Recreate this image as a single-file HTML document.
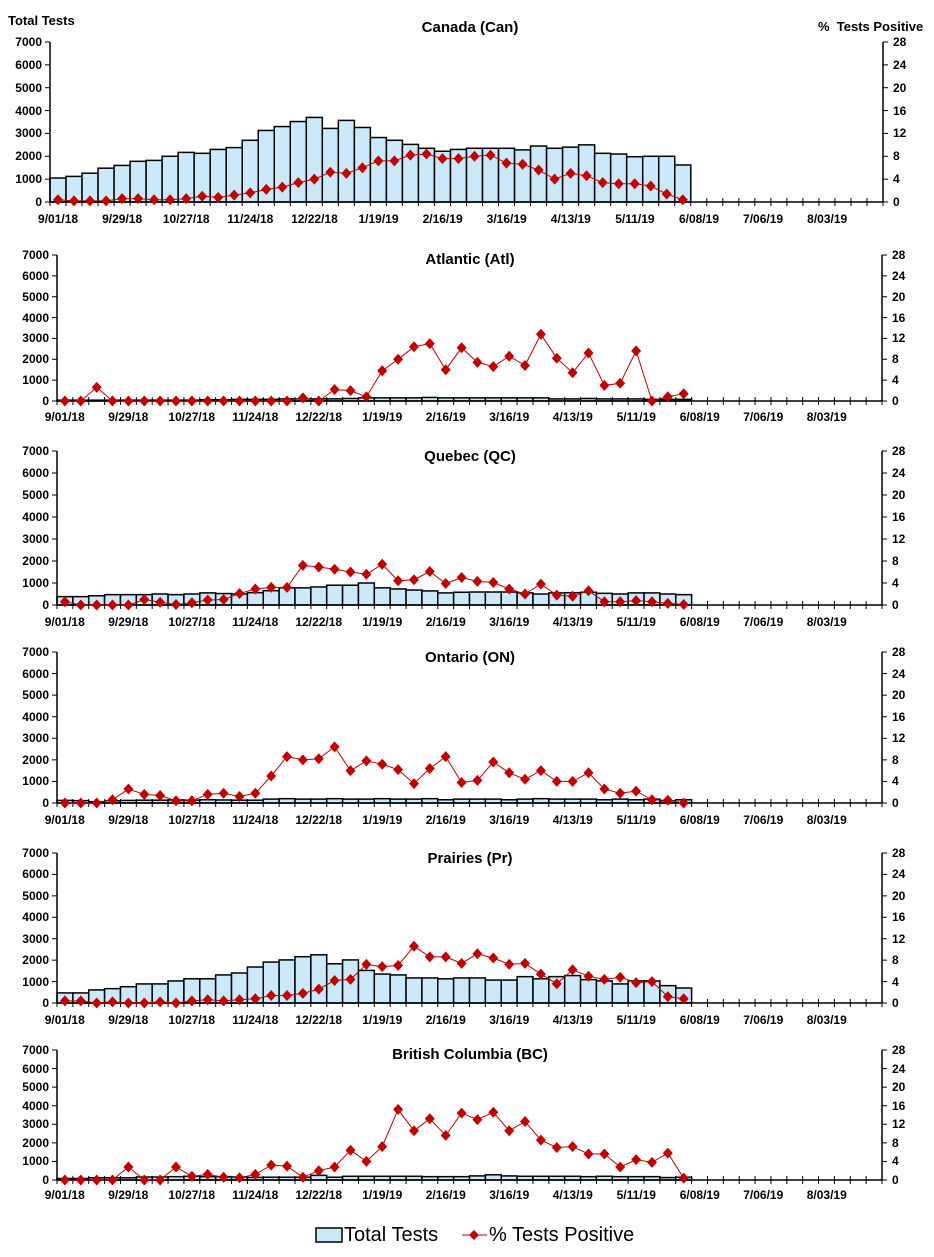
<!DOCTYPE html>
<html><head><meta charset="utf-8">
<style>
body{margin:0;background:#fff;width:934px;height:1257px;position:relative;overflow:hidden;font-family:"Liberation Sans",Arial,sans-serif;}
svg{position:absolute;left:0;top:0}
.yl,.yr{position:absolute;display:flex;flex-direction:column;justify-content:space-between;font-weight:bold;font-size:12px;line-height:14px}
.yl{text-align:right;width:40px}
.yr{text-align:left;width:30px}
.dt{position:absolute;display:flex;font-weight:bold;font-size:12px;line-height:14px;white-space:nowrap}
.dt span{text-align:center;flex:none}
.tt{position:absolute;font-weight:bold;font-size:15px;text-align:center;width:300px;line-height:18px}
.lab{position:absolute;font-weight:bold;font-size:13px;white-space:nowrap}
.leg{position:absolute;font-size:20px;white-space:nowrap;line-height:20px}
</style></head><body>
<svg id="s" width="934" height="1257" xmlns="http://www.w3.org/2000/svg"></svg>

<div class="lab" style="left:8px;top:13px">Total Tests</div>
<div class="lab" style="left:818px;top:19px">%&nbsp; Tests Positive</div>

<div class="tt" style="left:320px;top:19px">Canada (Can)</div>
<div class="tt" style="left:320px;top:251px">Atlantic (Atl)</div>
<div class="tt" style="left:320px;top:448px">Quebec (QC)</div>
<div class="tt" style="left:320px;top:649px">Ontario (ON)</div>
<div class="tt" style="left:320px;top:850px">Prairies (Pr)</div>
<div class="tt" style="left:320px;top:1046px">British Columbia (BC)</div>

<!-- Panel 1 -->
<div class="yl" style="left:2px;top:35px;height:174px"><div>7000</div><div>6000</div><div>5000</div><div>4000</div><div>3000</div><div>2000</div><div>1000</div><div>0</div></div>
<div class="yr" style="left:893px;top:35px;height:174px"><div>28</div><div>24</div><div>20</div><div>16</div><div>12</div><div>8</div><div>4</div><div>0</div></div>
<div class="dt" style="left:26px;top:212px"><span style="width:64.1px">9/01/18</span><span style="width:64.1px">9/29/18</span><span style="width:64.1px">10/27/18</span><span style="width:64.1px">11/24/18</span><span style="width:64.1px">12/22/18</span><span style="width:64.1px">1/19/19</span><span style="width:64.1px">2/16/19</span><span style="width:64.1px">3/16/19</span><span style="width:64.1px">4/13/19</span><span style="width:64.1px">5/11/19</span><span style="width:64.1px">6/08/19</span><span style="width:64.1px">7/06/19</span><span style="width:64.1px">8/03/19</span></div>

<!-- Panel 2 -->
<div class="yl" style="left:9px;top:248px;height:160px"><div>7000</div><div>6000</div><div>5000</div><div>4000</div><div>3000</div><div>2000</div><div>1000</div><div>0</div></div>
<div class="yr" style="left:892px;top:248px;height:160px"><div>28</div><div>24</div><div>20</div><div>16</div><div>12</div><div>8</div><div>4</div><div>0</div></div>
<div class="dt" style="left:33px;top:410px"><span style="width:63.5px">9/01/18</span><span style="width:63.5px">9/29/18</span><span style="width:63.5px">10/27/18</span><span style="width:63.5px">11/24/18</span><span style="width:63.5px">12/22/18</span><span style="width:63.5px">1/19/19</span><span style="width:63.5px">2/16/19</span><span style="width:63.5px">3/16/19</span><span style="width:63.5px">4/13/19</span><span style="width:63.5px">5/11/19</span><span style="width:63.5px">6/08/19</span><span style="width:63.5px">7/06/19</span><span style="width:63.5px">8/03/19</span></div>

<!-- Panel 3 -->
<div class="yl" style="left:9px;top:444px;height:168px"><div>7000</div><div>6000</div><div>5000</div><div>4000</div><div>3000</div><div>2000</div><div>1000</div><div>0</div></div>
<div class="yr" style="left:892px;top:444px;height:168px"><div>28</div><div>24</div><div>20</div><div>16</div><div>12</div><div>8</div><div>4</div><div>0</div></div>
<div class="dt" style="left:33px;top:615px"><span style="width:63.5px">9/01/18</span><span style="width:63.5px">9/29/18</span><span style="width:63.5px">10/27/18</span><span style="width:63.5px">11/24/18</span><span style="width:63.5px">12/22/18</span><span style="width:63.5px">1/19/19</span><span style="width:63.5px">2/16/19</span><span style="width:63.5px">3/16/19</span><span style="width:63.5px">4/13/19</span><span style="width:63.5px">5/11/19</span><span style="width:63.5px">6/08/19</span><span style="width:63.5px">7/06/19</span><span style="width:63.5px">8/03/19</span></div>

<!-- Panel 4 -->
<div class="yl" style="left:9px;top:645px;height:165px"><div>7000</div><div>6000</div><div>5000</div><div>4000</div><div>3000</div><div>2000</div><div>1000</div><div>0</div></div>
<div class="yr" style="left:892px;top:645px;height:165px"><div>28</div><div>24</div><div>20</div><div>16</div><div>12</div><div>8</div><div>4</div><div>0</div></div>
<div class="dt" style="left:33px;top:813px"><span style="width:63.5px">9/01/18</span><span style="width:63.5px">9/29/18</span><span style="width:63.5px">10/27/18</span><span style="width:63.5px">11/24/18</span><span style="width:63.5px">12/22/18</span><span style="width:63.5px">1/19/19</span><span style="width:63.5px">2/16/19</span><span style="width:63.5px">3/16/19</span><span style="width:63.5px">4/13/19</span><span style="width:63.5px">5/11/19</span><span style="width:63.5px">6/08/19</span><span style="width:63.5px">7/06/19</span><span style="width:63.5px">8/03/19</span></div>

<!-- Panel 5 -->
<div class="yl" style="left:9px;top:846px;height:164px"><div>7000</div><div>6000</div><div>5000</div><div>4000</div><div>3000</div><div>2000</div><div>1000</div><div>0</div></div>
<div class="yr" style="left:892px;top:846px;height:164px"><div>28</div><div>24</div><div>20</div><div>16</div><div>12</div><div>8</div><div>4</div><div>0</div></div>
<div class="dt" style="left:33px;top:1013px"><span style="width:63.5px">9/01/18</span><span style="width:63.5px">9/29/18</span><span style="width:63.5px">10/27/18</span><span style="width:63.5px">11/24/18</span><span style="width:63.5px">12/22/18</span><span style="width:63.5px">1/19/19</span><span style="width:63.5px">2/16/19</span><span style="width:63.5px">3/16/19</span><span style="width:63.5px">4/13/19</span><span style="width:63.5px">5/11/19</span><span style="width:63.5px">6/08/19</span><span style="width:63.5px">7/06/19</span><span style="width:63.5px">8/03/19</span></div>

<!-- Panel 6 -->
<div class="yl" style="left:9px;top:1043px;height:144px"><div>7000</div><div>6000</div><div>5000</div><div>4000</div><div>3000</div><div>2000</div><div>1000</div><div>0</div></div>
<div class="yr" style="left:892px;top:1043px;height:144px"><div>28</div><div>24</div><div>20</div><div>16</div><div>12</div><div>8</div><div>4</div><div>0</div></div>
<div class="dt" style="left:33px;top:1188px"><span style="width:63.5px">9/01/18</span><span style="width:63.5px">9/29/18</span><span style="width:63.5px">10/27/18</span><span style="width:63.5px">11/24/18</span><span style="width:63.5px">12/22/18</span><span style="width:63.5px">1/19/19</span><span style="width:63.5px">2/16/19</span><span style="width:63.5px">3/16/19</span><span style="width:63.5px">4/13/19</span><span style="width:63.5px">5/11/19</span><span style="width:63.5px">6/08/19</span><span style="width:63.5px">7/06/19</span><span style="width:63.5px">8/03/19</span></div>

<!-- Legend -->
<div class="leg" style="left:344px;top:1225px">Total Tests</div>
<div class="leg" style="left:489px;top:1225px">% Tests Positive</div>

<script>
var s=document.getElementById('s'),h='';
var P=[
{L:50,R:883,T:42,B:202,
b:[1050,1120,1260,1480,1600,1780,1820,2000,2170,2130,2300,2380,2700,3130,3300,3520,3700,3220,3570,3260,2820,2700,2520,2350,2220,2300,2350,2350,2350,2280,2450,2350,2400,2500,2130,2100,1980,2000,2000,1620],
p:[0.4,0.2,0.2,0.2,0.6,0.6,0.4,0.4,0.6,1.0,0.8,1.2,1.6,2.2,2.6,3.4,4.0,5.2,5.0,6.0,7.2,7.2,8.2,8.4,7.6,7.6,8.0,8.2,6.8,6.6,5.6,4.0,5.0,4.6,3.4,3.2,3.2,2.8,1.4,0.4]},
{L:57,R:882,T:255,B:401,
b:[40,40,40,40,40,40,40,40,40,60,60,80,80,80,100,100,100,100,120,150,150,150,150,170,150,150,150,150,150,150,150,100,100,120,100,100,100,80,80,80],
p:[0,0,2.6,0,0,0,0,0,0,0,0,0,0,0,0,0.6,0,2.2,2.0,0.8,5.8,8.0,10.4,11.0,6.0,10.2,7.4,6.6,8.6,6.8,12.8,8.2,5.4,9.2,3.0,3.4,9.6,0,0.8,1.4]},
{L:57,R:882,T:451,B:605,
b:[380,380,420,470,470,470,500,470,500,550,520,500,560,650,780,780,820,900,900,1000,780,730,680,640,550,580,590,590,590,550,500,550,560,580,530,500,550,550,500,470],
p:[0.6,0,0,0,0,1.0,0.5,0.1,0.4,0.9,1.0,2.1,2.9,3.2,3.2,7.2,6.9,6.5,6.0,5.6,7.4,4.4,4.6,6.1,3.9,5.0,4.3,4.1,2.9,2.0,3.8,1.8,1.6,2.6,0.6,0.6,0.8,0.6,0.3,0.1]},
{L:57,R:882,T:652,B:803,
b:[120,110,60,100,120,130,130,140,130,150,140,130,130,180,200,180,180,200,180,180,200,180,180,200,150,180,180,180,150,180,200,180,180,180,150,180,150,180,100,150],
p:[0,0,0,0.6,2.6,1.6,1.4,0.4,0.4,1.6,1.8,1.2,1.8,5.0,8.6,8.0,8.2,10.4,6.0,7.8,7.2,6.2,3.6,6.4,8.6,3.8,4.2,7.6,5.6,4.4,6.0,4.0,4.0,5.6,2.6,1.8,2.2,0.6,0.5,0]},
{L:57,R:882,T:853,B:1003,
b:[470,470,610,670,760,890,890,1030,1130,1130,1310,1400,1680,1910,2010,2160,2250,1830,2010,1520,1350,1310,1170,1170,1130,1170,1170,1070,1070,1230,1130,1230,1280,1090,1030,890,1030,1030,810,700],
p:[0.4,0.4,0,0.2,0,0,0.2,0,0.4,0.6,0.4,0.6,0.8,1.4,1.4,1.8,2.6,4.2,4.4,7.2,6.8,7.0,10.6,8.6,8.6,7.4,9.2,8.4,7.2,7.4,5.4,3.6,6.2,5.0,4.4,4.8,3.8,4.0,1.2,0.8]},
{L:57,R:882,T:1050,B:1180,
b:[80,80,120,120,120,160,160,180,200,180,180,160,140,150,150,150,250,150,200,200,200,200,200,180,180,180,220,280,220,200,200,200,200,180,200,180,180,180,130,150],
p:[0,0,0,0,2.8,0,0,2.8,0.8,1.2,0.6,0.5,1.2,3.2,3.0,0.6,2.0,2.8,6.4,4.0,7.2,15.2,10.6,13.2,9.6,14.4,13.0,14.6,10.6,12.6,8.6,7.0,7.2,5.6,5.6,2.8,4.4,3.8,5.8,0.4]}
];
P.forEach(function(q){
 var w=(q.R-q.L)/52,H=q.B-q.T;
 function Y(v){return q.B-v/7000*H;}
 q.b.forEach(function(v,i){var y=Y(v);h+='<rect x="'+(q.L+i*w)+'" y="'+y+'" width="'+w+'" height="'+(q.B-y)+'" fill="#cce9fa" stroke="#000" stroke-width="1.5"/>';});
 h+='<line x1="'+q.L+'" y1="'+q.T+'" x2="'+q.L+'" y2="'+q.B+'" stroke="#000" stroke-width="1.5"/>';
 h+='<line x1="'+q.R+'" y1="'+q.T+'" x2="'+q.R+'" y2="'+q.B+'" stroke="#000" stroke-width="1.5"/>';
 h+='<line x1="'+q.L+'" y1="'+q.B+'" x2="'+q.R+'" y2="'+q.B+'" stroke="#000" stroke-width="1.5"/>';
 for(var k=0;k<8;k++){var y=q.T+k*H/7;
  h+='<line x1="'+(q.L-5)+'" y1="'+y+'" x2="'+q.L+'" y2="'+y+'" stroke="#000"/>';
  h+='<line x1="'+q.R+'" y1="'+y+'" x2="'+(q.R+5)+'" y2="'+y+'" stroke="#000"/>';}
 for(var k=0;k<=52;k++){var x=q.L+k*w;h+='<line x1="'+x+'" y1="'+(q.B-4)+'" x2="'+x+'" y2="'+(q.B+4)+'" stroke="#000"/>';}
 var pts=q.p.map(function(v,i){return (q.L+(i+0.5)*w).toFixed(1)+','+Y(v*250).toFixed(1);});
 h+='<polyline points="'+pts.join(' ')+'" fill="none" stroke="#c00000" stroke-width="1"/>';
 pts.forEach(function(p){var a=p.split(','),x=+a[0],y=+a[1];
  h+='<polygon points="'+x+','+(y-5.5)+' '+(x+5)+','+y+' '+x+','+(y+5.5)+' '+(x-5)+','+y+'" fill="#c00000"/>';});
});
h+='<rect x="316" y="1228" width="26" height="14" fill="#cce9fa" stroke="#000" stroke-width="1.5"/>';
h+='<line x1="462" y1="1235" x2="487" y2="1235" stroke="#c00000" stroke-width="1"/>';
h+='<polygon points="474,1230 479,1235 474,1240 469,1235" fill="#c00000"/>';
s.innerHTML=h;
</script>
</body></html>
